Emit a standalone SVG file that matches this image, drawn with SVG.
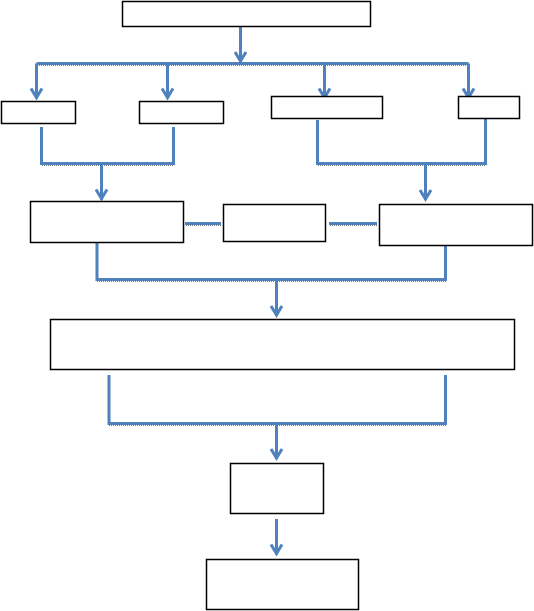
<svg xmlns="http://www.w3.org/2000/svg" width="534" height="611" viewBox="0 0 534 611">
<style>
.box{fill:#fff;stroke:#000;stroke-width:1.5}
.c{fill:none;stroke:#4F81BD;stroke-width:3;stroke-linecap:butt;stroke-linejoin:miter}
.a{marker-end:url(#arr)}
.sh{fill:none;stroke:#7a7a7a;stroke-width:1;stroke-dasharray:1 1}
</style>
<defs>
<marker id="arr" markerUnits="userSpaceOnUse" markerWidth="30" markerHeight="30" refX="0" refY="0" orient="auto" overflow="visible">
<path d="M-10,-5.5 L-1,0 L-10,5.5" fill="none" stroke="#4F81BD" stroke-width="3" stroke-linejoin="miter"/>
</marker>
</defs>
<g id="connectors">
<path class="sh" d="M37,65.5 H469"/>
<path class="sh" d="M42,165.5 H174 M318,165.5 H486 M186,225.5 H221 M330,225.5 H377 M97,281.5 H446 M109,425.5 H446"/>
<path class="c a" d="M240.5,27 V62"/>
<path class="c" d="M36.5,63.5 H468.5"/>
<path class="c a" d="M36.5,63.5 V98.5"/>
<path class="c a" d="M167.5,63.5 V98.5"/>
<path class="c a" d="M324.5,63.5 V98.5"/>
<path class="c a" d="M468.5,63.5 V98.5"/>
<path class="c" d="M41.5,127 V163.5 H173.5 V127"/>
<path class="c a" d="M101.5,163.5 V199.5"/>
<path class="c" d="M317.5,120 V163.5 H485.5 V119"/>
<path class="c a" d="M425.5,163.5 V200"/>
<path class="c" d="M185,223.5 H221"/>
<path class="c" d="M329,223.5 H377"/>
<path class="c" d="M97,243 V279.5 H445.5 V243"/>
<path class="c a" d="M276.5,279.5 V316"/>
<path class="c" d="M109,375 V423.5 H445.5 V375"/>
<path class="c a" d="M276.5,423.5 V459"/>
<path class="c a" d="M276.5,519 V554.5"/>
</g>
<g id="n1"><rect class="box" x="122.5" y="1.5" width="248" height="25"/></g>
<g id="n2"><rect class="box" x="1.5" y="101.5" width="74" height="22"/></g>
<g id="n3"><rect class="box" x="139.5" y="101.5" width="84" height="22"/></g>
<g id="n4"><rect class="box" x="271.5" y="96.5" width="111" height="22"/></g>
<g id="n5"><rect class="box" x="458.5" y="96.5" width="61" height="22"/></g>
<g id="n6"><rect class="box" x="30.5" y="201.5" width="153" height="41"/></g>
<g id="n7"><rect class="box" x="223.5" y="204.5" width="102" height="37"/></g>
<g id="n8"><rect class="box" x="379.5" y="204.5" width="153" height="41"/></g>
<g id="n9"><rect class="box" x="50.5" y="319.5" width="464" height="50"/></g>
<g id="n10"><rect class="box" x="230.5" y="463.5" width="93" height="50"/></g>
<g id="n11"><rect class="box" x="206.5" y="559.5" width="152" height="50"/></g>
</svg>
